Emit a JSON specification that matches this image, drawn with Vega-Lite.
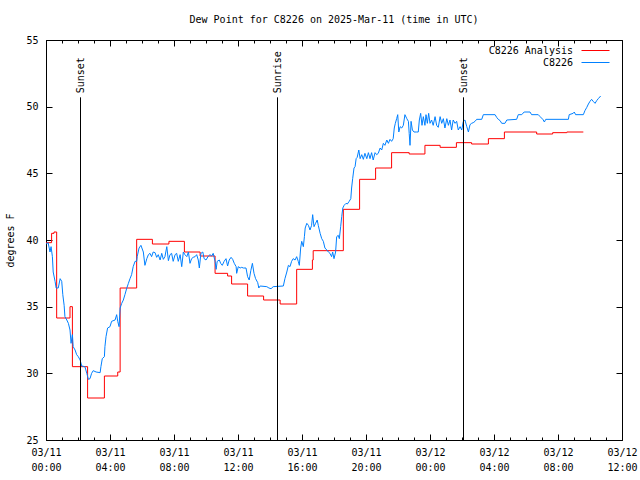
{
  "$schema": "https://vega.github.io/schema/vega-lite/v6.json",
  "width": 576,
  "height": 400,
  "autosize": {"type": "none"},
  "padding": {"top": 40, "left": 46, "right": 18, "bottom": 40},
  "background": "white",
  "title": {"text": "Dew Point for C8226 on 2025-Mar-11 (time in UTC)", "font": "DejaVu Sans Mono", "fontSize": 10, "fontWeight": "normal", "color": "black", "anchor": "middle", "offset": 10},
  "config": {
    "view": {"stroke": null},
    "axis": {"grid": false, "tickColor": "black", "domainColor": "black", "labelColor": "black", "labelFont": "DejaVu Sans Mono", "labelFontSize": 10, "titleFont": "DejaVu Sans Mono", "titleFontSize": 10, "titleFontWeight": "normal", "titleColor": "black", "tickWidth": 1, "domainWidth": 1}
  },
  "datasets": {
    "analysis": [
      {"t": "2025-03-11T00:00:00Z", "dewpoint": 39.8, "series": "C8226 Analysis"},
      {"t": "2025-03-11T00:21:00Z", "dewpoint": 40.5, "series": "C8226 Analysis"},
      {"t": "2025-03-11T00:30:00Z", "dewpoint": 40.6, "series": "C8226 Analysis"},
      {"t": "2025-03-11T00:40:00Z", "dewpoint": 34.15, "series": "C8226 Analysis"},
      {"t": "2025-03-11T01:30:00Z", "dewpoint": 35.0, "series": "C8226 Analysis"},
      {"t": "2025-03-11T01:39:00Z", "dewpoint": 30.5, "series": "C8226 Analysis"},
      {"t": "2025-03-11T02:36:00Z", "dewpoint": 28.15, "series": "C8226 Analysis"},
      {"t": "2025-03-11T03:39:00Z", "dewpoint": 29.8, "series": "C8226 Analysis"},
      {"t": "2025-03-11T04:29:00Z", "dewpoint": 30.1, "series": "C8226 Analysis"},
      {"t": "2025-03-11T04:38:00Z", "dewpoint": 36.4, "series": "C8226 Analysis"},
      {"t": "2025-03-11T05:40:00Z", "dewpoint": 40.05, "series": "C8226 Analysis"},
      {"t": "2025-03-11T06:39:00Z", "dewpoint": 39.7, "series": "C8226 Analysis"},
      {"t": "2025-03-11T07:41:00Z", "dewpoint": 39.9, "series": "C8226 Analysis"},
      {"t": "2025-03-11T08:39:00Z", "dewpoint": 39.1, "series": "C8226 Analysis"},
      {"t": "2025-03-11T09:38:00Z", "dewpoint": 38.8, "series": "C8226 Analysis"},
      {"t": "2025-03-11T10:34:00Z", "dewpoint": 37.5, "series": "C8226 Analysis"},
      {"t": "2025-03-11T11:21:00Z", "dewpoint": 37.3, "series": "C8226 Analysis"},
      {"t": "2025-03-11T11:36:00Z", "dewpoint": 36.7, "series": "C8226 Analysis"},
      {"t": "2025-03-11T12:36:00Z", "dewpoint": 35.8, "series": "C8226 Analysis"},
      {"t": "2025-03-11T13:36:00Z", "dewpoint": 35.5, "series": "C8226 Analysis"},
      {"t": "2025-03-11T14:38:00Z", "dewpoint": 35.2, "series": "C8226 Analysis"},
      {"t": "2025-03-11T15:40:00Z", "dewpoint": 37.8, "series": "C8226 Analysis"},
      {"t": "2025-03-11T16:39:00Z", "dewpoint": 38.5, "series": "C8226 Analysis"},
      {"t": "2025-03-11T16:42:00Z", "dewpoint": 39.2, "series": "C8226 Analysis"},
      {"t": "2025-03-11T18:35:00Z", "dewpoint": 42.3, "series": "C8226 Analysis"},
      {"t": "2025-03-11T19:36:00Z", "dewpoint": 44.55, "series": "C8226 Analysis"},
      {"t": "2025-03-11T20:36:00Z", "dewpoint": 45.4, "series": "C8226 Analysis"},
      {"t": "2025-03-11T21:36:00Z", "dewpoint": 46.55, "series": "C8226 Analysis"},
      {"t": "2025-03-11T22:42:00Z", "dewpoint": 46.45, "series": "C8226 Analysis"},
      {"t": "2025-03-11T23:41:00Z", "dewpoint": 47.1, "series": "C8226 Analysis"},
      {"t": "2025-03-12T00:38:00Z", "dewpoint": 46.95, "series": "C8226 Analysis"},
      {"t": "2025-03-12T01:39:00Z", "dewpoint": 47.3, "series": "C8226 Analysis"},
      {"t": "2025-03-12T02:36:00Z", "dewpoint": 47.2, "series": "C8226 Analysis"},
      {"t": "2025-03-12T03:39:00Z", "dewpoint": 47.6, "series": "C8226 Analysis"},
      {"t": "2025-03-12T04:39:00Z", "dewpoint": 48.1, "series": "C8226 Analysis"},
      {"t": "2025-03-12T06:40:00Z", "dewpoint": 47.95, "series": "C8226 Analysis"},
      {"t": "2025-03-12T07:40:00Z", "dewpoint": 48.05, "series": "C8226 Analysis"},
      {"t": "2025-03-12T08:33:00Z", "dewpoint": 48.1, "series": "C8226 Analysis"},
      {"t": "2025-03-12T09:35:00Z", "dewpoint": 48.1, "series": "C8226 Analysis"}
    ],
    "obs": [
      {"t": "2025-03-11T00:00:00Z", "dewpoint": 39.7, "series": "C8226"},
      {"t": "2025-03-11T00:08:00Z", "dewpoint": 39.8, "series": "C8226"},
      {"t": "2025-03-11T00:15:00Z", "dewpoint": 39.1, "series": "C8226"},
      {"t": "2025-03-11T00:19:00Z", "dewpoint": 39.5, "series": "C8226"},
      {"t": "2025-03-11T00:24:00Z", "dewpoint": 38.75, "series": "C8226"},
      {"t": "2025-03-11T00:27:00Z", "dewpoint": 37.6, "series": "C8226"},
      {"t": "2025-03-11T00:34:00Z", "dewpoint": 36.9, "series": "C8226"},
      {"t": "2025-03-11T00:38:00Z", "dewpoint": 36.4, "series": "C8226"},
      {"t": "2025-03-11T00:46:00Z", "dewpoint": 36.4, "series": "C8226"},
      {"t": "2025-03-11T00:53:00Z", "dewpoint": 37.1, "series": "C8226"},
      {"t": "2025-03-11T00:59:00Z", "dewpoint": 36.9, "series": "C8226"},
      {"t": "2025-03-11T01:03:00Z", "dewpoint": 35.9, "series": "C8226"},
      {"t": "2025-03-11T01:08:00Z", "dewpoint": 35.1, "series": "C8226"},
      {"t": "2025-03-11T01:11:00Z", "dewpoint": 34.25, "series": "C8226"},
      {"t": "2025-03-11T01:18:00Z", "dewpoint": 34.0, "series": "C8226"},
      {"t": "2025-03-11T01:24:00Z", "dewpoint": 33.75, "series": "C8226"},
      {"t": "2025-03-11T01:30:00Z", "dewpoint": 33.25, "series": "C8226"},
      {"t": "2025-03-11T01:34:00Z", "dewpoint": 32.25, "series": "C8226"},
      {"t": "2025-03-11T01:39:00Z", "dewpoint": 32.9, "series": "C8226"},
      {"t": "2025-03-11T01:42:00Z", "dewpoint": 32.0, "series": "C8226"},
      {"t": "2025-03-11T01:49:00Z", "dewpoint": 31.75, "series": "C8226"},
      {"t": "2025-03-11T01:55:00Z", "dewpoint": 31.4, "series": "C8226"},
      {"t": "2025-03-11T02:01:00Z", "dewpoint": 31.25, "series": "C8226"},
      {"t": "2025-03-11T02:08:00Z", "dewpoint": 31.0, "series": "C8226"},
      {"t": "2025-03-11T02:14:00Z", "dewpoint": 30.55, "series": "C8226"},
      {"t": "2025-03-11T02:26:00Z", "dewpoint": 30.5, "series": "C8226"},
      {"t": "2025-03-11T02:33:00Z", "dewpoint": 30.0, "series": "C8226"},
      {"t": "2025-03-11T02:39:00Z", "dewpoint": 29.55, "series": "C8226"},
      {"t": "2025-03-11T02:45:00Z", "dewpoint": 29.6, "series": "C8226"},
      {"t": "2025-03-11T02:51:00Z", "dewpoint": 30.0, "series": "C8226"},
      {"t": "2025-03-11T02:57:00Z", "dewpoint": 30.2, "series": "C8226"},
      {"t": "2025-03-11T03:08:00Z", "dewpoint": 30.1, "series": "C8226"},
      {"t": "2025-03-11T03:23:00Z", "dewpoint": 30.05, "series": "C8226"},
      {"t": "2025-03-11T03:26:00Z", "dewpoint": 30.5, "series": "C8226"},
      {"t": "2025-03-11T03:31:00Z", "dewpoint": 31.1, "series": "C8226"},
      {"t": "2025-03-11T03:39:00Z", "dewpoint": 31.25, "series": "C8226"},
      {"t": "2025-03-11T03:41:00Z", "dewpoint": 32.0, "series": "C8226"},
      {"t": "2025-03-11T03:45:00Z", "dewpoint": 32.75, "series": "C8226"},
      {"t": "2025-03-11T03:51:00Z", "dewpoint": 33.4, "series": "C8226"},
      {"t": "2025-03-11T04:00:00Z", "dewpoint": 33.5, "series": "C8226"},
      {"t": "2025-03-11T04:06:00Z", "dewpoint": 33.9, "series": "C8226"},
      {"t": "2025-03-11T04:19:00Z", "dewpoint": 34.0, "series": "C8226"},
      {"t": "2025-03-11T04:25:00Z", "dewpoint": 34.4, "series": "C8226"},
      {"t": "2025-03-11T04:29:00Z", "dewpoint": 33.9, "series": "C8226"},
      {"t": "2025-03-11T04:34:00Z", "dewpoint": 33.5, "series": "C8226"},
      {"t": "2025-03-11T04:38:00Z", "dewpoint": 34.9, "series": "C8226"},
      {"t": "2025-03-11T04:44:00Z", "dewpoint": 35.25, "series": "C8226"},
      {"t": "2025-03-11T04:50:00Z", "dewpoint": 35.5, "series": "C8226"},
      {"t": "2025-03-11T04:56:00Z", "dewpoint": 35.9, "series": "C8226"},
      {"t": "2025-03-11T05:03:00Z", "dewpoint": 36.4, "series": "C8226"},
      {"t": "2025-03-11T05:09:00Z", "dewpoint": 36.75, "series": "C8226"},
      {"t": "2025-03-11T05:15:00Z", "dewpoint": 37.1, "series": "C8226"},
      {"t": "2025-03-11T05:21:00Z", "dewpoint": 37.4, "series": "C8226"},
      {"t": "2025-03-11T05:27:00Z", "dewpoint": 38.0, "series": "C8226"},
      {"t": "2025-03-11T05:34:00Z", "dewpoint": 38.4, "series": "C8226"},
      {"t": "2025-03-11T05:40:00Z", "dewpoint": 38.4, "series": "C8226"},
      {"t": "2025-03-11T05:42:00Z", "dewpoint": 38.75, "series": "C8226"},
      {"t": "2025-03-11T05:49:00Z", "dewpoint": 39.4, "series": "C8226"},
      {"t": "2025-03-11T05:56:00Z", "dewpoint": 39.6, "series": "C8226"},
      {"t": "2025-03-11T06:05:00Z", "dewpoint": 39.1, "series": "C8226"},
      {"t": "2025-03-11T06:11:00Z", "dewpoint": 38.1, "series": "C8226"},
      {"t": "2025-03-11T06:18:00Z", "dewpoint": 38.6, "series": "C8226"},
      {"t": "2025-03-11T06:24:00Z", "dewpoint": 38.9, "series": "C8226"},
      {"t": "2025-03-11T06:30:00Z", "dewpoint": 39.0, "series": "C8226"},
      {"t": "2025-03-11T06:36:00Z", "dewpoint": 38.75, "series": "C8226"},
      {"t": "2025-03-11T06:42:00Z", "dewpoint": 39.1, "series": "C8226"},
      {"t": "2025-03-11T06:49:00Z", "dewpoint": 39.05, "series": "C8226"},
      {"t": "2025-03-11T06:55:00Z", "dewpoint": 38.7, "series": "C8226"},
      {"t": "2025-03-11T07:01:00Z", "dewpoint": 38.9, "series": "C8226"},
      {"t": "2025-03-11T07:08:00Z", "dewpoint": 38.5, "series": "C8226"},
      {"t": "2025-03-11T07:14:00Z", "dewpoint": 39.0, "series": "C8226"},
      {"t": "2025-03-11T07:20:00Z", "dewpoint": 38.55, "series": "C8226"},
      {"t": "2025-03-11T07:26:00Z", "dewpoint": 38.75, "series": "C8226"},
      {"t": "2025-03-11T07:33:00Z", "dewpoint": 39.5, "series": "C8226"},
      {"t": "2025-03-11T07:39:00Z", "dewpoint": 38.45, "series": "C8226"},
      {"t": "2025-03-11T07:45:00Z", "dewpoint": 38.9, "series": "C8226"},
      {"t": "2025-03-11T07:51:00Z", "dewpoint": 39.0, "series": "C8226"},
      {"t": "2025-03-11T07:57:00Z", "dewpoint": 38.4, "series": "C8226"},
      {"t": "2025-03-11T08:04:00Z", "dewpoint": 38.9, "series": "C8226"},
      {"t": "2025-03-11T08:10:00Z", "dewpoint": 39.0, "series": "C8226"},
      {"t": "2025-03-11T08:16:00Z", "dewpoint": 38.4, "series": "C8226"},
      {"t": "2025-03-11T08:23:00Z", "dewpoint": 38.9, "series": "C8226"},
      {"t": "2025-03-11T08:29:00Z", "dewpoint": 38.0, "series": "C8226"},
      {"t": "2025-03-11T08:35:00Z", "dewpoint": 39.1, "series": "C8226"},
      {"t": "2025-03-11T08:41:00Z", "dewpoint": 38.9, "series": "C8226"},
      {"t": "2025-03-11T08:48:00Z", "dewpoint": 38.75, "series": "C8226"},
      {"t": "2025-03-11T08:54:00Z", "dewpoint": 39.1, "series": "C8226"},
      {"t": "2025-03-11T09:00:00Z", "dewpoint": 38.25, "series": "C8226"},
      {"t": "2025-03-11T09:06:00Z", "dewpoint": 38.6, "series": "C8226"},
      {"t": "2025-03-11T09:12:00Z", "dewpoint": 38.7, "series": "C8226"},
      {"t": "2025-03-11T09:19:00Z", "dewpoint": 38.75, "series": "C8226"},
      {"t": "2025-03-11T09:25:00Z", "dewpoint": 38.9, "series": "C8226"},
      {"t": "2025-03-11T09:31:00Z", "dewpoint": 38.5, "series": "C8226"},
      {"t": "2025-03-11T09:35:00Z", "dewpoint": 37.9, "series": "C8226"},
      {"t": "2025-03-11T09:41:00Z", "dewpoint": 39.0, "series": "C8226"},
      {"t": "2025-03-11T09:48:00Z", "dewpoint": 39.1, "series": "C8226"},
      {"t": "2025-03-11T09:53:00Z", "dewpoint": 38.6, "series": "C8226"},
      {"t": "2025-03-11T10:00:00Z", "dewpoint": 38.5, "series": "C8226"},
      {"t": "2025-03-11T10:09:00Z", "dewpoint": 38.8, "series": "C8226"},
      {"t": "2025-03-11T10:15:00Z", "dewpoint": 38.9, "series": "C8226"},
      {"t": "2025-03-11T10:21:00Z", "dewpoint": 38.8, "series": "C8226"},
      {"t": "2025-03-11T10:27:00Z", "dewpoint": 39.0, "series": "C8226"},
      {"t": "2025-03-11T10:34:00Z", "dewpoint": 38.4, "series": "C8226"},
      {"t": "2025-03-11T10:38:00Z", "dewpoint": 37.8, "series": "C8226"},
      {"t": "2025-03-11T10:42:00Z", "dewpoint": 38.4, "series": "C8226"},
      {"t": "2025-03-11T10:50:00Z", "dewpoint": 38.5, "series": "C8226"},
      {"t": "2025-03-11T10:55:00Z", "dewpoint": 38.25, "series": "C8226"},
      {"t": "2025-03-11T11:01:00Z", "dewpoint": 38.1, "series": "C8226"},
      {"t": "2025-03-11T11:08:00Z", "dewpoint": 38.4, "series": "C8226"},
      {"t": "2025-03-11T11:15:00Z", "dewpoint": 38.6, "series": "C8226"},
      {"t": "2025-03-11T11:21:00Z", "dewpoint": 38.05, "series": "C8226"},
      {"t": "2025-03-11T11:27:00Z", "dewpoint": 38.5, "series": "C8226"},
      {"t": "2025-03-11T11:34:00Z", "dewpoint": 38.7, "series": "C8226"},
      {"t": "2025-03-11T11:40:00Z", "dewpoint": 38.55, "series": "C8226"},
      {"t": "2025-03-11T11:46:00Z", "dewpoint": 38.25, "series": "C8226"},
      {"t": "2025-03-11T11:53:00Z", "dewpoint": 38.0, "series": "C8226"},
      {"t": "2025-03-11T11:55:00Z", "dewpoint": 37.5, "series": "C8226"},
      {"t": "2025-03-11T12:01:00Z", "dewpoint": 38.0, "series": "C8226"},
      {"t": "2025-03-11T12:08:00Z", "dewpoint": 37.9, "series": "C8226"},
      {"t": "2025-03-11T12:14:00Z", "dewpoint": 37.95, "series": "C8226"},
      {"t": "2025-03-11T12:20:00Z", "dewpoint": 37.9, "series": "C8226"},
      {"t": "2025-03-11T12:30:00Z", "dewpoint": 37.9, "series": "C8226"},
      {"t": "2025-03-11T12:36:00Z", "dewpoint": 37.25, "series": "C8226"},
      {"t": "2025-03-11T12:42:00Z", "dewpoint": 37.0, "series": "C8226"},
      {"t": "2025-03-11T12:48:00Z", "dewpoint": 37.7, "series": "C8226"},
      {"t": "2025-03-11T12:54:00Z", "dewpoint": 38.25, "series": "C8226"},
      {"t": "2025-03-11T13:00:00Z", "dewpoint": 37.5, "series": "C8226"},
      {"t": "2025-03-11T13:06:00Z", "dewpoint": 37.1, "series": "C8226"},
      {"t": "2025-03-11T13:14:00Z", "dewpoint": 36.8, "series": "C8226"},
      {"t": "2025-03-11T13:18:00Z", "dewpoint": 36.4, "series": "C8226"},
      {"t": "2025-03-11T13:23:00Z", "dewpoint": 36.55, "series": "C8226"},
      {"t": "2025-03-11T13:48:00Z", "dewpoint": 36.5, "series": "C8226"},
      {"t": "2025-03-11T13:56:00Z", "dewpoint": 36.4, "series": "C8226"},
      {"t": "2025-03-11T14:04:00Z", "dewpoint": 36.35, "series": "C8226"},
      {"t": "2025-03-11T14:12:00Z", "dewpoint": 36.5, "series": "C8226"},
      {"t": "2025-03-11T14:50:00Z", "dewpoint": 36.55, "series": "C8226"},
      {"t": "2025-03-11T14:56:00Z", "dewpoint": 37.1, "series": "C8226"},
      {"t": "2025-03-11T15:03:00Z", "dewpoint": 37.6, "series": "C8226"},
      {"t": "2025-03-11T15:09:00Z", "dewpoint": 38.1, "series": "C8226"},
      {"t": "2025-03-11T15:15:00Z", "dewpoint": 38.0, "series": "C8226"},
      {"t": "2025-03-11T15:21:00Z", "dewpoint": 38.4, "series": "C8226"},
      {"t": "2025-03-11T15:27:00Z", "dewpoint": 38.6, "series": "C8226"},
      {"t": "2025-03-11T15:34:00Z", "dewpoint": 38.5, "series": "C8226"},
      {"t": "2025-03-11T15:40:00Z", "dewpoint": 38.75, "series": "C8226"},
      {"t": "2025-03-11T15:46:00Z", "dewpoint": 38.4, "series": "C8226"},
      {"t": "2025-03-11T15:50:00Z", "dewpoint": 38.1, "series": "C8226"},
      {"t": "2025-03-11T15:55:00Z", "dewpoint": 39.4, "series": "C8226"},
      {"t": "2025-03-11T15:59:00Z", "dewpoint": 39.9, "series": "C8226"},
      {"t": "2025-03-11T16:05:00Z", "dewpoint": 39.5, "series": "C8226"},
      {"t": "2025-03-11T16:09:00Z", "dewpoint": 40.25, "series": "C8226"},
      {"t": "2025-03-11T16:12:00Z", "dewpoint": 40.9, "series": "C8226"},
      {"t": "2025-03-11T16:18:00Z", "dewpoint": 41.25, "series": "C8226"},
      {"t": "2025-03-11T16:24:00Z", "dewpoint": 41.1, "series": "C8226"},
      {"t": "2025-03-11T16:30:00Z", "dewpoint": 40.75, "series": "C8226"},
      {"t": "2025-03-11T16:36:00Z", "dewpoint": 41.1, "series": "C8226"},
      {"t": "2025-03-11T16:40:00Z", "dewpoint": 41.9, "series": "C8226"},
      {"t": "2025-03-11T16:45:00Z", "dewpoint": 41.0, "series": "C8226"},
      {"t": "2025-03-11T16:51:00Z", "dewpoint": 41.25, "series": "C8226"},
      {"t": "2025-03-11T16:57:00Z", "dewpoint": 41.5, "series": "C8226"},
      {"t": "2025-03-11T17:01:00Z", "dewpoint": 41.1, "series": "C8226"},
      {"t": "2025-03-11T17:08:00Z", "dewpoint": 40.5, "series": "C8226"},
      {"t": "2025-03-11T17:14:00Z", "dewpoint": 40.1, "series": "C8226"},
      {"t": "2025-03-11T17:20:00Z", "dewpoint": 39.9, "series": "C8226"},
      {"t": "2025-03-11T17:26:00Z", "dewpoint": 39.4, "series": "C8226"},
      {"t": "2025-03-11T17:33:00Z", "dewpoint": 39.25, "series": "C8226"},
      {"t": "2025-03-11T17:39:00Z", "dewpoint": 39.1, "series": "C8226"},
      {"t": "2025-03-11T17:45:00Z", "dewpoint": 39.0, "series": "C8226"},
      {"t": "2025-03-11T17:51:00Z", "dewpoint": 38.75, "series": "C8226"},
      {"t": "2025-03-11T17:55:00Z", "dewpoint": 39.1, "series": "C8226"},
      {"t": "2025-03-11T18:00:00Z", "dewpoint": 38.6, "series": "C8226"},
      {"t": "2025-03-11T18:06:00Z", "dewpoint": 39.1, "series": "C8226"},
      {"t": "2025-03-11T18:10:00Z", "dewpoint": 40.25, "series": "C8226"},
      {"t": "2025-03-11T18:16:00Z", "dewpoint": 40.35, "series": "C8226"},
      {"t": "2025-03-11T18:20:00Z", "dewpoint": 40.1, "series": "C8226"},
      {"t": "2025-03-11T18:25:00Z", "dewpoint": 41.0, "series": "C8226"},
      {"t": "2025-03-11T18:29:00Z", "dewpoint": 41.75, "series": "C8226"},
      {"t": "2025-03-11T18:33:00Z", "dewpoint": 42.4, "series": "C8226"},
      {"t": "2025-03-11T18:38:00Z", "dewpoint": 42.6, "series": "C8226"},
      {"t": "2025-03-11T18:45:00Z", "dewpoint": 42.75, "series": "C8226"},
      {"t": "2025-03-11T18:50:00Z", "dewpoint": 42.7, "series": "C8226"},
      {"t": "2025-03-11T18:57:00Z", "dewpoint": 42.9, "series": "C8226"},
      {"t": "2025-03-11T19:03:00Z", "dewpoint": 43.1, "series": "C8226"},
      {"t": "2025-03-11T19:06:00Z", "dewpoint": 43.9, "series": "C8226"},
      {"t": "2025-03-11T19:10:00Z", "dewpoint": 44.6, "series": "C8226"},
      {"t": "2025-03-11T19:15:00Z", "dewpoint": 45.4, "series": "C8226"},
      {"t": "2025-03-11T19:19:00Z", "dewpoint": 45.5, "series": "C8226"},
      {"t": "2025-03-11T19:23:00Z", "dewpoint": 46.1, "series": "C8226"},
      {"t": "2025-03-11T19:27:00Z", "dewpoint": 46.2, "series": "C8226"},
      {"t": "2025-03-11T19:33:00Z", "dewpoint": 46.75, "series": "C8226"},
      {"t": "2025-03-11T19:38:00Z", "dewpoint": 46.1, "series": "C8226"},
      {"t": "2025-03-11T19:44:00Z", "dewpoint": 46.4, "series": "C8226"},
      {"t": "2025-03-11T19:50:00Z", "dewpoint": 46.05, "series": "C8226"},
      {"t": "2025-03-11T19:56:00Z", "dewpoint": 46.5, "series": "C8226"},
      {"t": "2025-03-11T20:03:00Z", "dewpoint": 46.1, "series": "C8226"},
      {"t": "2025-03-11T20:09:00Z", "dewpoint": 46.55, "series": "C8226"},
      {"t": "2025-03-11T20:15:00Z", "dewpoint": 46.1, "series": "C8226"},
      {"t": "2025-03-11T20:21:00Z", "dewpoint": 46.55, "series": "C8226"},
      {"t": "2025-03-11T20:27:00Z", "dewpoint": 46.0, "series": "C8226"},
      {"t": "2025-03-11T20:34:00Z", "dewpoint": 46.55, "series": "C8226"},
      {"t": "2025-03-11T20:40:00Z", "dewpoint": 46.4, "series": "C8226"},
      {"t": "2025-03-11T20:46:00Z", "dewpoint": 46.5, "series": "C8226"},
      {"t": "2025-03-11T20:53:00Z", "dewpoint": 46.9, "series": "C8226"},
      {"t": "2025-03-11T20:59:00Z", "dewpoint": 46.75, "series": "C8226"},
      {"t": "2025-03-11T21:05:00Z", "dewpoint": 47.25, "series": "C8226"},
      {"t": "2025-03-11T21:11:00Z", "dewpoint": 47.1, "series": "C8226"},
      {"t": "2025-03-11T21:18:00Z", "dewpoint": 47.5, "series": "C8226"},
      {"t": "2025-03-11T21:24:00Z", "dewpoint": 47.25, "series": "C8226"},
      {"t": "2025-03-11T21:30:00Z", "dewpoint": 47.55, "series": "C8226"},
      {"t": "2025-03-11T21:36:00Z", "dewpoint": 47.4, "series": "C8226"},
      {"t": "2025-03-11T21:42:00Z", "dewpoint": 47.6, "series": "C8226"},
      {"t": "2025-03-11T21:46:00Z", "dewpoint": 48.4, "series": "C8226"},
      {"t": "2025-03-11T21:50:00Z", "dewpoint": 48.75, "series": "C8226"},
      {"t": "2025-03-11T21:55:00Z", "dewpoint": 49.1, "series": "C8226"},
      {"t": "2025-03-11T21:59:00Z", "dewpoint": 49.4, "series": "C8226"},
      {"t": "2025-03-11T22:03:00Z", "dewpoint": 48.1, "series": "C8226"},
      {"t": "2025-03-11T22:08:00Z", "dewpoint": 48.5, "series": "C8226"},
      {"t": "2025-03-11T22:14:00Z", "dewpoint": 48.4, "series": "C8226"},
      {"t": "2025-03-11T22:20:00Z", "dewpoint": 48.6, "series": "C8226"},
      {"t": "2025-03-11T22:26:00Z", "dewpoint": 49.4, "series": "C8226"},
      {"t": "2025-03-11T22:33:00Z", "dewpoint": 49.1, "series": "C8226"},
      {"t": "2025-03-11T22:39:00Z", "dewpoint": 48.9, "series": "C8226"},
      {"t": "2025-03-11T22:42:00Z", "dewpoint": 48.0, "series": "C8226"},
      {"t": "2025-03-11T22:45:00Z", "dewpoint": 47.1, "series": "C8226"},
      {"t": "2025-03-11T22:49:00Z", "dewpoint": 48.9, "series": "C8226"},
      {"t": "2025-03-11T22:54:00Z", "dewpoint": 48.25, "series": "C8226"},
      {"t": "2025-03-11T23:00:00Z", "dewpoint": 48.1, "series": "C8226"},
      {"t": "2025-03-11T23:10:00Z", "dewpoint": 48.1, "series": "C8226"},
      {"t": "2025-03-11T23:16:00Z", "dewpoint": 48.1, "series": "C8226"},
      {"t": "2025-03-11T23:20:00Z", "dewpoint": 49.0, "series": "C8226"},
      {"t": "2025-03-11T23:25:00Z", "dewpoint": 49.5, "series": "C8226"},
      {"t": "2025-03-11T23:30:00Z", "dewpoint": 48.6, "series": "C8226"},
      {"t": "2025-03-11T23:35:00Z", "dewpoint": 49.25, "series": "C8226"},
      {"t": "2025-03-11T23:41:00Z", "dewpoint": 48.6, "series": "C8226"},
      {"t": "2025-03-11T23:45:00Z", "dewpoint": 49.4, "series": "C8226"},
      {"t": "2025-03-11T23:50:00Z", "dewpoint": 48.75, "series": "C8226"},
      {"t": "2025-03-11T23:55:00Z", "dewpoint": 49.5, "series": "C8226"},
      {"t": "2025-03-12T00:00:00Z", "dewpoint": 48.75, "series": "C8226"},
      {"t": "2025-03-12T00:06:00Z", "dewpoint": 49.0, "series": "C8226"},
      {"t": "2025-03-12T00:12:00Z", "dewpoint": 48.6, "series": "C8226"},
      {"t": "2025-03-12T00:19:00Z", "dewpoint": 49.25, "series": "C8226"},
      {"t": "2025-03-12T00:25:00Z", "dewpoint": 48.6, "series": "C8226"},
      {"t": "2025-03-12T00:31:00Z", "dewpoint": 48.45, "series": "C8226"},
      {"t": "2025-03-12T00:38:00Z", "dewpoint": 49.25, "series": "C8226"},
      {"t": "2025-03-12T00:44:00Z", "dewpoint": 48.75, "series": "C8226"},
      {"t": "2025-03-12T00:50:00Z", "dewpoint": 49.1, "series": "C8226"},
      {"t": "2025-03-12T00:56:00Z", "dewpoint": 48.4, "series": "C8226"},
      {"t": "2025-03-12T01:03:00Z", "dewpoint": 49.1, "series": "C8226"},
      {"t": "2025-03-12T01:09:00Z", "dewpoint": 48.6, "series": "C8226"},
      {"t": "2025-03-12T01:15:00Z", "dewpoint": 49.0, "series": "C8226"},
      {"t": "2025-03-12T01:21:00Z", "dewpoint": 48.25, "series": "C8226"},
      {"t": "2025-03-12T01:27:00Z", "dewpoint": 49.0, "series": "C8226"},
      {"t": "2025-03-12T01:34:00Z", "dewpoint": 48.75, "series": "C8226"},
      {"t": "2025-03-12T01:40:00Z", "dewpoint": 48.9, "series": "C8226"},
      {"t": "2025-03-12T01:46:00Z", "dewpoint": 48.25, "series": "C8226"},
      {"t": "2025-03-12T01:53:00Z", "dewpoint": 48.5, "series": "C8226"},
      {"t": "2025-03-12T01:59:00Z", "dewpoint": 48.25, "series": "C8226"},
      {"t": "2025-03-12T02:05:00Z", "dewpoint": 48.9, "series": "C8226"},
      {"t": "2025-03-12T02:11:00Z", "dewpoint": 49.0, "series": "C8226"},
      {"t": "2025-03-12T02:18:00Z", "dewpoint": 48.5, "series": "C8226"},
      {"t": "2025-03-12T02:24:00Z", "dewpoint": 48.1, "series": "C8226"},
      {"t": "2025-03-12T02:30:00Z", "dewpoint": 48.65, "series": "C8226"},
      {"t": "2025-03-12T02:36:00Z", "dewpoint": 48.75, "series": "C8226"},
      {"t": "2025-03-12T02:42:00Z", "dewpoint": 48.8, "series": "C8226"},
      {"t": "2025-03-12T02:49:00Z", "dewpoint": 48.9, "series": "C8226"},
      {"t": "2025-03-12T02:55:00Z", "dewpoint": 49.05, "series": "C8226"},
      {"t": "2025-03-12T03:14:00Z", "dewpoint": 49.05, "series": "C8226"},
      {"t": "2025-03-12T03:20:00Z", "dewpoint": 49.4, "series": "C8226"},
      {"t": "2025-03-12T04:04:00Z", "dewpoint": 49.4, "series": "C8226"},
      {"t": "2025-03-12T04:10:00Z", "dewpoint": 49.2, "series": "C8226"},
      {"t": "2025-03-12T04:16:00Z", "dewpoint": 49.05, "series": "C8226"},
      {"t": "2025-03-12T04:23:00Z", "dewpoint": 48.95, "series": "C8226"},
      {"t": "2025-03-12T04:29:00Z", "dewpoint": 48.75, "series": "C8226"},
      {"t": "2025-03-12T04:41:00Z", "dewpoint": 48.75, "series": "C8226"},
      {"t": "2025-03-12T04:48:00Z", "dewpoint": 49.0, "series": "C8226"},
      {"t": "2025-03-12T05:25:00Z", "dewpoint": 49.05, "series": "C8226"},
      {"t": "2025-03-12T05:31:00Z", "dewpoint": 49.4, "series": "C8226"},
      {"t": "2025-03-12T05:44:00Z", "dewpoint": 49.4, "series": "C8226"},
      {"t": "2025-03-12T05:53:00Z", "dewpoint": 49.6, "series": "C8226"},
      {"t": "2025-03-12T06:15:00Z", "dewpoint": 49.6, "series": "C8226"},
      {"t": "2025-03-12T06:21:00Z", "dewpoint": 49.4, "series": "C8226"},
      {"t": "2025-03-12T06:46:00Z", "dewpoint": 49.4, "series": "C8226"},
      {"t": "2025-03-12T06:53:00Z", "dewpoint": 49.25, "series": "C8226"},
      {"t": "2025-03-12T07:03:00Z", "dewpoint": 49.05, "series": "C8226"},
      {"t": "2025-03-12T07:09:00Z", "dewpoint": 48.85, "series": "C8226"},
      {"t": "2025-03-12T07:14:00Z", "dewpoint": 49.05, "series": "C8226"},
      {"t": "2025-03-12T08:39:00Z", "dewpoint": 49.05, "series": "C8226"},
      {"t": "2025-03-12T08:42:00Z", "dewpoint": 49.4, "series": "C8226"},
      {"t": "2025-03-12T08:57:00Z", "dewpoint": 49.5, "series": "C8226"},
      {"t": "2025-03-12T09:01:00Z", "dewpoint": 49.6, "series": "C8226"},
      {"t": "2025-03-12T09:06:00Z", "dewpoint": 49.4, "series": "C8226"},
      {"t": "2025-03-12T09:35:00Z", "dewpoint": 49.4, "series": "C8226"},
      {"t": "2025-03-12T09:41:00Z", "dewpoint": 49.7, "series": "C8226"},
      {"t": "2025-03-12T09:48:00Z", "dewpoint": 49.95, "series": "C8226"},
      {"t": "2025-03-12T09:54:00Z", "dewpoint": 50.2, "series": "C8226"},
      {"t": "2025-03-12T10:00:00Z", "dewpoint": 50.4, "series": "C8226"},
      {"t": "2025-03-12T10:06:00Z", "dewpoint": 50.55, "series": "C8226"},
      {"t": "2025-03-12T10:12:00Z", "dewpoint": 50.4, "series": "C8226"},
      {"t": "2025-03-12T10:19:00Z", "dewpoint": 50.25, "series": "C8226"},
      {"t": "2025-03-12T10:25:00Z", "dewpoint": 50.45, "series": "C8226"},
      {"t": "2025-03-12T10:31:00Z", "dewpoint": 50.6, "series": "C8226"},
      {"t": "2025-03-12T10:40:00Z", "dewpoint": 50.8, "series": "C8226"}
    ],
    "events": [
      {"t": "2025-03-11T02:09:23Z", "label": "Sunset"},
      {"t": "2025-03-11T14:28:08Z", "label": "Sunrise"},
      {"t": "2025-03-12T02:05:38Z", "label": "Sunset"}
    ]
  },
  "resolve": {"scale": {"x": "shared", "y": "shared", "color": "shared"}, "axis": {"x": "independent", "y": "independent"}},
  "layer": [
    {
      "data": {"name": "analysis"},
      "mark": {"type": "line", "interpolate": "step-after", "strokeWidth": 1, "clip": true},
      "encoding": {
        "x": {"field": "t", "type": "temporal",
          "scale": {"type": "utc", "domain": [{"year": 2025, "month": 3, "date": 11, "hours": 0, "utc": true}, {"year": 2025, "month": 3, "date": 12, "hours": 12, "utc": true}]},
          "axis": {"orient": "bottom", "title": null, "tickCount": {"interval": "hours", "step": 4}, "labelExpr": "[utcFormat(datum.value, '%m/%d'), utcFormat(datum.value, '%H:%M')]", "tickSize": -6, "labelPadding": 13, "labelLineHeight": 15, "labelFlush": false, "labelOverlap": false, "labelBaseline": "top", "domain": true}},
        "y": {"field": "dewpoint", "type": "quantitative",
          "scale": {"domain": [25, 55], "nice": false, "zero": false},
          "axis": {"orient": "left", "values": [25, 30, 35, 40, 45, 50, 55], "tickSize": -6, "labelPadding": 14, "domain": true, "title": "degrees F", "titleX": -36, "titleY": 200, "titleAngle": 270, "titleAlign": "center", "titleBaseline": "middle"}},
        "color": {"field": "series", "type": "nominal",
          "scale": {"domain": ["C8226 Analysis", "C8226"], "range": ["#ff0000", "#0080ff"]},
          "legend": {"orient": "none", "legendX": 544, "legendY": 5, "title": null, "symbolType": "M-2.8,0H2.8", "symbolSize": 100, "symbolStrokeWidth": 1, "labelAlign": "right", "labelOffset": -28, "labelFont": "DejaVu Sans Mono", "labelFontSize": 10, "labelColor": "black", "rowPadding": 1, "padding": 0, "symbolOffset": 0}}
      }
    },
    {
      "data": {"name": "obs"},
      "mark": {"type": "line", "strokeWidth": 1, "clip": true},
      "encoding": {
        "x": {"field": "t", "type": "temporal",
          "axis": {"orient": "bottom", "title": null, "tickCount": {"interval": "hours", "step": 1}, "labels": false, "tickSize": -3, "domain": false}},
        "y": {"field": "dewpoint", "type": "quantitative",
          "axis": {"orient": "right", "values": [25, 30, 35, 40, 45, 50, 55], "labels": false, "tickSize": -6, "domain": true, "title": null}},
        "color": {"field": "series", "type": "nominal"}
      }
    },
    {
      "data": {"name": "events"},
      "mark": {"type": "rule", "color": "black", "strokeWidth": 1},
      "encoding": {
        "x": {"field": "t", "type": "temporal",
          "axis": {"orient": "top", "title": null, "tickCount": {"interval": "hours", "step": 4}, "labels": false, "tickSize": -6, "domain": true}},
        "y": {"datum": 25, "type": "quantitative", "axis": null},
        "y2": {"datum": 50.7}
      }
    },
    {
      "data": {"name": "events"},
      "mark": {"type": "text", "angle": 270, "align": "left", "baseline": "middle", "font": "DejaVu Sans Mono", "fontSize": 10, "color": "black"},
      "encoding": {
        "x": {"field": "t", "type": "temporal",
          "axis": {"orient": "top", "title": null, "tickCount": {"interval": "hours", "step": 1}, "labels": false, "tickSize": -3, "domain": false}},
        "y": {"datum": 51.0, "type": "quantitative", "axis": null},
        "text": {"field": "label"}
      }
    }
  ]
}
